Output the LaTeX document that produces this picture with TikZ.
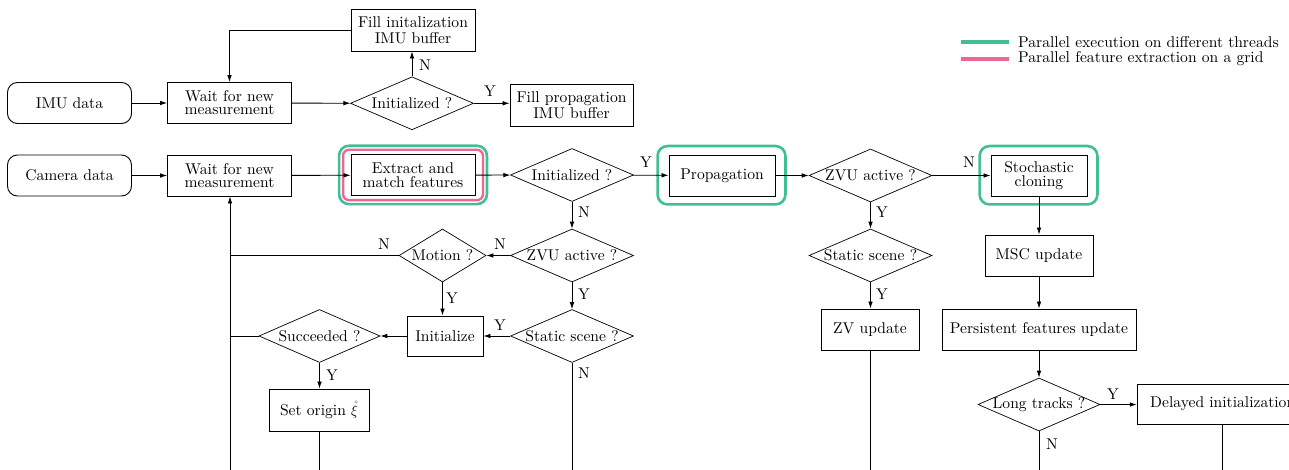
\documentclass[tikz,border=0pt]{standalone}
\usepackage{fontspec}
\setmainfont{lmroman10-regular.otf}
\usetikzlibrary{shapes.geometric,arrows.meta}
\definecolor{thrgreen}{RGB}{66,190,148}
\definecolor{gridpink}{RGB}{236,102,150}
\begin{document}
\begin{tikzpicture}[x=1pt,y=-1pt,
  font=\fontsize{15.6}{16}\selectfont,
  box/.style={draw, line width=0.9pt, align=center, inner sep=0pt},
  rbox/.style={box, rounded corners=10pt},
  dec/.style={draw, diamond, line width=0.7pt, inner sep=0pt, aspect=2.3, minimum width=123pt, minimum height=53pt},
  arr/.style={line width=0.8pt, -{Latex[length=7pt,width=4.6pt]}},
  ln/.style={line width=0.8pt},
  lbl/.style={inner sep=0pt, anchor=base west},
  thread/.style={draw=thrgreen, line width=2.6pt, rounded corners=10pt},
  gridst/.style={draw=gridpink, line width=2.4pt, rounded corners=6pt}
]
\useasboundingbox (0,0) rectangle (1289,470);
\clip (0,0) rectangle (1289,470);

% ---- top row (IMU)
\node[rbox, minimum width=124pt, minimum height=41pt] (imu) at (69.5,103) {IMU data};
\node[box, minimum width=124pt, minimum height=41pt] (wait1) at (229.5,103) {Wait for new\\[-3pt]measurement};
\node[dec] (init1) at (412,103.3) {\makebox[0pt]{Initialized ?}};
\node[box, minimum width=124pt, minimum height=42pt] (fillinit) at (413,30) {Fill initalization\\IMU buffer};
\node[box, minimum width=123pt, minimum height=42pt] (fillprop) at (571.5,105.5) {Fill propagation\\IMU buffer};

% ---- camera row
\node[rbox, minimum width=124pt, minimum height=41pt] (cam) at (69.5,175.5) {Camera data};
\node[box, minimum width=124pt, minimum height=41pt] (wait2) at (229.5,175.5) {Wait for new\\[-3pt]measurement};
\node[box, minimum width=124pt, minimum height=41pt] (extract) at (413,175.2) {Extract and\\[-2pt]match features};
\node[dec] (init2) at (572,175) {\makebox[0pt]{Initialized ?}};
\node[box, minimum width=106pt, minimum height=41pt] (prop) at (722,175.5) {Propagation};
\node[dec] (zvu2) at (870.5,175.5) {\makebox[0pt]{ZVU active ?}};
\node[box, minimum width=96pt, minimum height=41pt] (clone) at (1039,175.5) {Stochastic\\[-2pt]cloning};

% ---- left branch
\node[dec] (zvu1) at (572,255.5) {\makebox[0pt]{ZVU active ?}};
\node[dec, minimum width=87pt] (motion) at (442.5,255.5) {\makebox[0pt]{Motion ?}};
\node[dec] (stat1) at (572,336) {\makebox[0pt]{Static scene ?}};
\node[box, minimum width=76pt, minimum height=40pt] (initz) at (445,336) {Initialize};
\node[dec, minimum width=121pt] (succ) at (319.5,336) {\makebox[0pt]{Succeeded ?}};
\node[box, minimum width=100pt, minimum height=42pt] (origin) at (319,410) {Set origin $\mathring{\xi}$};

% ---- right branch
\node[dec] (stat2) at (870.5,255.5) {\makebox[0pt]{Static scene ?}};
\node[box, minimum width=98pt, minimum height=41pt] (zv) at (870,329.5) {ZV update};
\node[box, minimum width=108pt, minimum height=41pt] (msc) at (1039,255.5) {MSC update};
\node[box, minimum width=194pt, minimum height=41pt] (pers) at (1039,329.5) {Persistent features update};
\node[dec, minimum width=122pt] (long) at (1039,404.5) {\makebox[0pt]{Long tracks ?}};
\node[box, minimum width=171pt, minimum height=40pt] (delayed) at (1222.7,404) {Delayed initialization};

% ---- parallel frames
\draw[thread] ([shift={(-11.5,-8.5)}]extract.north west) rectangle ([shift={(11.5,8)}]extract.south east);
\draw[gridst] ([shift={(-7.5,-4.5)}]extract.north west) rectangle ([shift={(7.5,4)}]extract.south east);
\draw[thread] ([shift={(-11,-8.5)}]prop.north west) rectangle ([shift={(10,8)}]prop.south east);
\draw[thread] ([shift={(-11,-8.5)}]clone.north west) rectangle ([shift={(10,8)}]clone.south east);

% ---- free ends
\coordinate (bl) at (230,480);
\coordinate (ml) at (230,255.5);
\coordinate (sl) at (230,336);
\coordinate (b1) at (572,480);
\coordinate (b2) at (319,480);
\coordinate (b3) at (870,480);
\coordinate (b4) at (1039,480);
\coordinate (b5) at (1222.7,480);

% ---- connectors, top row
\draw[arr] (imu) -- (wait1);
\draw[arr] (wait1) -- (init1);
\draw[arr] (init1.east) -- (init1.east -| fillprop.west);
\node[lbl] (y1) at (484,97) {Y};
\draw[arr] (init1.north) -- (init1.north |- fillinit.south);
\node[lbl] (n1) at (419,71) {N};
\draw[arr] (fillinit.west) -| (wait1.north);

% ---- connectors, camera row
\draw[arr] (cam) -- (wait2);
\draw[arr] (wait2) -- (extract);
\draw[arr] (extract) -- (init2);
\draw[arr] (init2) -- (prop);
\node[lbl] (y2) at (640,168) {Y};
\draw[arr] (prop) -- (zvu2);
\draw[arr] (zvu2) -- (clone);
\node[lbl] (n2) at (963,168) {N};

% ---- left branch connectors
\draw[arr] (init2) -- (zvu1);
\node[lbl] (n3) at (578,218) {N};
\draw[arr] (zvu1) -- (motion);
\node[lbl] (n4) at (494,250) {N};
\draw[ln] (motion.west) -- (ml);
\node[lbl] (n5) at (378,250) {N};
\draw[arr] (motion.south) -- (motion.south |- initz.north);
\node[lbl] (y3) at (446,303) {Y};
\draw[arr] (zvu1) -- (stat1);
\node[lbl] (y4) at (578,299) {Y};
\draw[arr] (stat1) -- (initz);
\node[lbl] (y5) at (494,330) {Y};
\draw[ln] (stat1.south) -- (b1);
\node[lbl] (n6) at (578,378) {N};
\draw[arr] (initz) -- (succ);
\draw[ln] (succ.west) -- (sl);
\draw[arr] (succ.south) -- (succ.south |- origin.north);
\node[lbl] (y6) at (326,380) {Y};
\draw[ln] (origin.south) -- (b2);
\draw[arr] (bl) -- (bl |- wait2.south);

% ---- right branch connectors
\draw[arr] (zvu2) -- (stat2);
\node[lbl] (y7) at (876,218) {Y};
\draw[arr] (stat2.south) -- (stat2.south |- zv.north);
\node[lbl] (y8) at (876,299) {Y};
\draw[ln] (zv.south) -- (b3);
\draw[arr] (clone) -- (msc);
\draw[arr] (msc) -- (pers);
\draw[arr] (pers) -- (long);
\draw[arr] (long.east) -- (long.east -| delayed.west);
\node[lbl] (y9) at (1107,399) {Y};
\draw[ln] (long.south) -- (b4);
\node[lbl] (n7) at (1046,449) {N};
\draw[ln] (delayed.south) -- (b5);

% ---- legend
\coordinate (la1) at (961,42);
\coordinate (lb1) at (1009,42);
\coordinate (la2) at (961,59);
\coordinate (lb2) at (1009,59);
\draw[draw=thrgreen, line width=4pt] (la1) -- (lb1);
\draw[draw=gridpink, line width=4pt] (la2) -- (lb2);
\node[anchor=west, inner sep=0pt] (lt1) at (1018,42) {Parallel execution on different threads};
\node[anchor=west, inner sep=0pt] (lt2) at (1018,59) {Parallel feature extraction on a grid};
\end{tikzpicture}
\end{document}
